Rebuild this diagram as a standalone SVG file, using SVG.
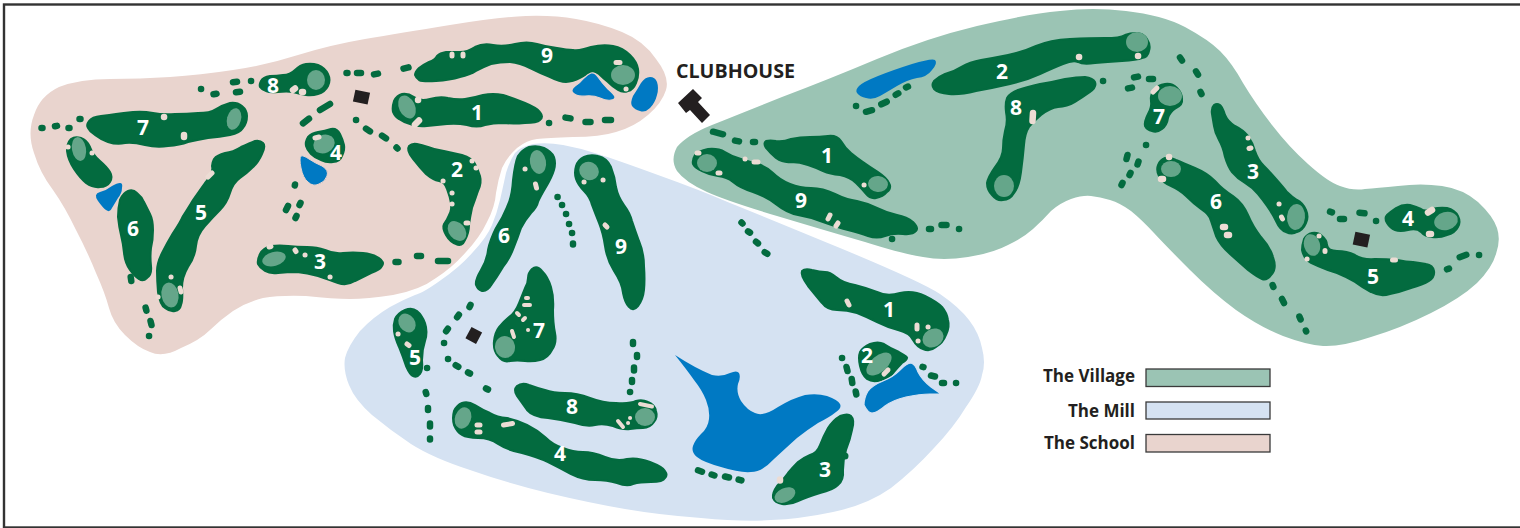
<svg xmlns="http://www.w3.org/2000/svg" width="1520" height="528" viewBox="0 0 1520 528">
<style>
.f{fill:#036b3f;stroke:#036b3f;stroke-width:2;stroke-linejoin:round}
.l{fill:#65a68a}
.s{fill:none;stroke:#ecdcd4;stroke-width:6.500;stroke-linecap:round}
.t{stroke-width:5}
.w{fill:#0079c3}
.b{fill:#231f20}
.c{fill:none;stroke:#036b3f;stroke-width:6.500;stroke-linecap:round}
.n{fill:#fff;font:700 21px "Open Sans","Liberation Sans",sans-serif;text-anchor:middle}
.k{fill:#231f20;font:700 17px "Open Sans","Liberation Sans",sans-serif;text-anchor:end}
.r{stroke:#3a3a3a;stroke-width:1.300}
</style>
<rect width="1520" height="528" fill="#fff"/>
<rect x="4" y="4.500" width="1530" height="523" fill="none" stroke="#333" stroke-width="2.400"/>
<g id="areas">
<path id="area-school" fill="#e9d4ce" d="M59,87 Q80,79 110,79 Q140,79 170,77 Q200,75 233,70 Q267,65 298,55 Q330,45 365,39 Q400,33 450,25 Q500,17 526,16 Q553,15 576,19 Q600,23 622,32 Q644,41 656,59 Q670,77 666,90 Q662,103 648,115 Q634,127 616,132 Q600,137 573,137 Q547,138 537,139 Q527,140 517,148 Q507,157 502,168 Q498,180 496,193 Q495,207 487,222 Q480,237 466,252 Q453,267 436,278 Q420,290 393,295 Q367,299 350,299 Q333,299 306,296 Q280,295 263,298 Q247,302 233,311 Q220,320 210,330 Q200,340 181,348 Q163,358 150,352 Q138,348 125,335 Q113,323 109,308 Q105,293 96,273 Q88,253 76,230 Q65,207 53,190 Q40,173 34,153 Q27,133 34,115 Q40,96 59,87Z"/>
<path id="area-mill" fill="#d5e2f2" d="M533,144 Q547,142 563,145 Q580,148 598,154 Q617,160 658,175 Q700,190 730,203 Q760,215 840,248 Q922,282 940,294 Q959,307 969,320 Q979,333 982,348 Q986,363 982,375 Q980,387 966,407 Q954,427 934,448 Q914,470 891,488 Q867,505 833,512 Q800,519 771,520 Q743,522 701,518 Q660,515 625,509 Q590,503 548,493 Q507,483 470,470 Q433,458 411,444 Q390,430 372,415 Q355,400 349,385 Q343,370 345,358 Q348,346 360,331 Q373,317 390,307 Q407,298 415,295 Q423,293 441,280 Q460,267 473,252 Q487,237 492,225 Q497,213 500,200 Q503,187 506,173 Q510,160 515,153 Q520,147 533,144Z"/>
<path id="area-village" fill="#9bc4b4" d="M677,171 Q670,160 677,147 Q687,135 712,125 Q737,115 782,97 Q827,80 877,59 Q927,38 977,26 Q1027,14 1060,11 Q1093,7 1126,11 Q1162,15 1185,27 Q1209,40 1220,51 Q1232,63 1243,83 Q1255,103 1272,125 Q1289,147 1308,164 Q1328,182 1340,186 Q1353,191 1365,189 Q1377,188 1398,186 Q1421,183 1442,186 Q1463,189 1478,202 Q1493,216 1497,228 Q1501,240 1496,254 Q1492,268 1477,283 Q1461,298 1431,313 Q1401,328 1371,337 Q1341,347 1323,346 Q1307,345 1283,336 Q1260,327 1236,310 Q1213,293 1190,270 Q1167,247 1154,233 Q1142,220 1131,211 Q1120,203 1110,200 Q1100,197 1091,196 Q1083,195 1071,199 Q1060,203 1051,211 Q1043,220 1033,229 Q1023,238 1008,245 Q993,253 968,257 Q943,261 923,257 Q903,254 865,242 Q827,231 777,216 Q727,201 707,192 Q685,182 677,171Z"/>
</g>
<g id="connectors">
<path class="c" d="M41.500,128h1M55,126.300l2,-.4M68.500,128h1M79.500,119h1"/>
<path class="c" d="M201,89h.1M213.500,94.300l3,-.6M236,92.300l4,-.6M233,82.300l4,-.6M251,81h.1"/>
<path class="c" d="M346.500,73h1M357,73h4M374,74.400l4,-.8M403.500,68.600l5,-1.200"/>
<path class="c" d="M320,110l10,-6M303,123.300l6,-4.600"/>
<path class="c" d="M356,120h.1M366,128.600l4,2.800M382,135.600l4,2.800M396.500,147.500l1,1"/>
<path class="c" d="M295,184.500l-.2,1M300.500,203l-1,2M288,206l-2,4M296.500,216l-1,2"/>
<path class="c" d="M395.500,262h3M417,256h4M438,261h10"/>
<path class="c" d="M130.700,277l.6,4M145.600,307.600l.8,3M150.500,321l1,4M149,336h.1"/>
<path class="c" d="M549,123h.1M565.500,117.600l5,.8M585.500,122h5M605,120h6"/>
<path class="c" d="M713,131.700l10,2.600M735,140.600l4,.8M753,142h2"/>
<path class="c" d="M856,106h.1M866,111.800l6,-1.600M881.300,104.300l5.400,-2.600M895.700,94.800l2.600,-1.500M906,87.400l2,-.8"/>
<path class="c" d="M1103,81h.1M1134,77.400l4,-.8M1149,79h4M1128,88.400l4,-.8"/>
<path class="c" d="M929,229h2M941.500,225h5M959,229h.1M892,239h.1"/>
<path class="c" d="M1146,145h.1M1127.500,155l-1,4M1138.500,161.500l-1,3M1130.500,173l-1,2M1122.500,183l-1,2"/>
<path class="c" d="M1180,57.500l2,3M1196,71.300l2,3.400M1200.500,92l1,2"/>
<path class="c" d="M1330,211.700l2,.6M1340,219h4M1359.500,212.700l5,.6M1376,221h.1"/>
<path class="c" d="M1447,269.300l2,-.7M1459.700,257.200l6.600,-2.400M1479,255h.1"/>
<path class="c" d="M1272.600,285l.8,2M1282,299l2,4M1299.400,316.600l1.200,2.800M1305.800,330.500l.4,1"/>
<path class="c" d="M741.500,222.500l1,1M748,231.400l2,1.200M756,241.800l2,1.600M764.700,252.200l2.600,1.600"/>
<path class="c" d="M557.500,197h.1M562,205h.1M566,214h.1M569,224h.1M572,233h.1M573,243.500v1"/>
<path class="c" d="M842,358h.1M846.500,367l1,4M851.700,379l.6,4M855.700,391.500l.6,3"/>
<path class="c" d="M922.500,366.900l1,.2M931,375.500l4,1M942,383h2M956,383h.1"/>
<path class="c" d="M698,470.300l4,1.400M711.600,474.500l2.800,1M725,476.500l4,1M738.600,479.600l2.800,.8"/>
<path class="c" d="M470.500,305l-1,2M458.900,314.800l-1.800,2.400M447.900,328.800l-1.800,2.400M444,343h.1M448,359h.1M455.700,365.200l2.600,1.600M468,372.500l2,1M486,388.500l2,1"/>
<path class="c" d="M427,368h.1M425.700,392l.6,2M428,408v2M430,423.500v3M430,438.500v1"/>
<path class="c" d="M633,342v2M637,355v2M634,367.500v3M632,380v2M630,392h.1"/>
</g>
<g id="clubhouse">
<path class="b" d="M678,103L693,89L702,98L698,102L710,115L702,123L690,110L686,113Z"/>
<text x="676" y="78" fill="#231f20" font-family="Open Sans, Liberation Sans, sans-serif" font-weight="700" font-size="19" textLength="119" lengthAdjust="spacingAndGlyphs">CLUBHOUSE</text>
</g>
<g id="school">
<rect class="b" x="354" y="91" width="15" height="12" transform="rotate(12 361 97)"/>
<g id="school-1"><path class="f" d="M393,112 Q392,107 394,101 Q397,95 402,94 Q408,93 414,97 Q420,102 430,99 Q440,96 448,98 Q457,100 465,99 Q473,98 483,95 Q493,93 503,95 Q513,98 525,103 Q537,108 540,112 Q544,117 540,120 Q537,123 525,123 Q513,124 503,123 Q493,123 485,125 Q477,128 467,125 Q457,123 447,124 Q437,125 427,126 Q417,127 410,124 Q403,122 399,119 Q395,117 393,112Z"/><ellipse class="l" cx="407" cy="107" rx="8" ry="12" transform="rotate(-25 407 107)"/><path class="s" d="M418,100h.1M415,124.500l4,-4"/><text class="n" x="477" y="120">1</text></g>
<g id="school-2"><path class="f" d="M413,159 Q406,150 409,146 Q412,143 417,144 Q422,145 428,147 Q435,150 444,151 Q453,153 462,155 Q472,158 475,164 Q478,170 480,176 Q482,183 478,191 Q475,200 472,208 Q470,217 469,225 Q469,233 465,240 Q462,247 456,244 Q450,242 446,235 Q442,228 444,224 Q447,220 449,215 Q452,210 451,203 Q450,197 447,189 Q445,182 439,181 Q433,180 426,174 Q420,168 413,159Z"/><ellipse class="l" cx="457" cy="231" rx="8" ry="11" transform="rotate(-40 457 231)"/><path class="s t" d="M472,161h.1M476,168h.1M443,181h.1M452,193h.1M452,204h.1M466,223h2"/><text class="n" x="457" y="177">2</text></g>
<g id="school-3"><path class="f" d="M258,264 Q257,260 260,254 Q263,248 271,246 Q280,245 288,246 Q297,247 307,247 Q317,247 325,250 Q333,254 343,253 Q353,252 363,253 Q373,254 379,258 Q385,262 382,266 Q380,270 371,273 Q363,277 355,281 Q347,286 338,283 Q330,280 318,276 Q307,273 297,272 Q287,272 278,273 Q270,274 265,271 Q260,268 258,264Z"/><ellipse class="l" cx="274" cy="259" rx="12" ry="7" transform="rotate(-15 274 259)"/><path class="s t" d="M269,247l2,-.5M295,250l1,1.500M305,255h.1M330,277h.1"/><text class="n" x="320" y="269">3</text></g>
<g id="school-4"><path class="f" d="M306,146 Q305,142 308,137 Q312,133 318,132 Q325,131 331,129 Q337,128 340,134 Q343,140 344,145 Q345,150 342,156 Q340,162 333,162 Q327,163 321,160 Q315,158 311,154 Q307,150 306,146Z"/><ellipse class="l" cx="324" cy="144" rx="11" ry="9" transform="rotate(-25 324 144)"/><path class="s t" d="M315,138l4,-1"/><path class="w" stroke="#e9d4ce" stroke-width="1" d="M301,168 Q299,158 301,156 Q303,155 309,159 Q315,163 322,166 Q329,170 327,176 Q325,182 319,184 Q313,187 308,182 Q303,178 301,168Z"/><text class="n" x="336" y="160">4</text></g>
<g id="school-5"><path class="f" d="M212,166 Q212,163 214,159 Q217,155 225,153 Q233,152 241,147 Q250,143 255,141 Q260,140 263,143 Q266,146 262,154 Q258,163 252,168 Q247,173 240,178 Q233,183 230,193 Q227,203 220,210 Q213,217 205,226 Q197,235 196,246 Q195,257 188,267 Q182,277 182,288 Q183,300 181,305 Q180,310 175,311 Q170,312 165,308 Q160,305 158,292 Q157,280 157,271 Q157,263 162,253 Q167,243 173,233 Q180,223 183,216 Q187,210 193,200 Q200,190 205,183 Q210,177 211,173 Q213,170 212,166Z"/><ellipse class="l" cx="170" cy="295" rx="8.500" ry="12.500" transform="rotate(-10 170 295)"/><path class="s t" d="M208,177l4,-4M171,277h.1M180,288l1,4M158,297h.1"/><text class="n" x="201" y="220">5</text></g>
<g id="school-6"><path class="f" d="M118,217 Q118,208 120,200 Q123,193 128,191 Q133,189 137,193 Q142,197 144,202 Q147,208 150,214 Q153,220 153,230 Q153,240 151,248 Q150,257 151,266 Q152,275 147,278 Q143,282 139,279 Q135,277 130,270 Q125,263 124,253 Q123,243 121,235 Q119,227 118,217Z"/><text class="n" x="133" y="236">6</text></g>
<g id="school-7"><path class="f" d="M88,128 Q86,125 89,121 Q92,117 101,116 Q110,115 116,114 Q123,113 133,112 Q143,111 153,113 Q163,115 175,114 Q187,114 198,113 Q210,113 216,109 Q223,105 230,103 Q237,102 242,106 Q247,110 247,116 Q247,123 243,128 Q240,133 230,135 Q220,137 208,138 Q197,140 188,142 Q180,145 168,146 Q157,148 145,145 Q133,142 125,143 Q117,145 108,142 Q100,139 95,135 Q90,132 88,128Z"/><ellipse class="l" cx="234" cy="119" rx="7" ry="11" transform="rotate(15 234 119)"/><path class="s" d="M164,117h.1M184,135v2"/><text class="n" x="143" y="135">7</text></g>
<g id="school-8"><path class="f" d="M260,87 Q259,85 261,81 Q263,77 270,76 Q277,76 283,75 Q290,75 295,70 Q300,65 306,64 Q312,63 318,65 Q325,68 328,74 Q331,80 328,86 Q325,92 318,94 Q312,96 306,95 Q300,94 293,92 Q287,91 278,92 Q270,93 266,91 Q262,90 260,87Z"/><ellipse class="l" cx="316" cy="80" rx="9" ry="10"/><path class="s" d="M293,90l2,-1.500M302,92h1"/><text class="n" x="273" y="93">8</text></g>
<g id="school-9"><path class="f" d="M415,75 Q415,72 419,68 Q423,65 429,62 Q435,60 437,56 Q440,53 446,52 Q453,52 460,52 Q467,52 475,47 Q483,43 493,45 Q503,47 515,44 Q527,41 537,44 Q547,47 557,48 Q567,50 573,50 Q580,51 591,47 Q603,44 613,46 Q623,48 630,55 Q637,62 638,69 Q639,77 636,83 Q633,90 628,91 Q623,93 618,90 Q613,87 608,82 Q603,78 599,74 Q595,71 591,72 Q587,74 580,78 Q573,82 566,82 Q560,82 550,77 Q540,73 530,68 Q520,63 510,62 Q500,62 491,64 Q483,67 476,71 Q470,75 460,77 Q450,80 436,81 Q423,82 419,80 Q416,78 415,75Z"/><ellipse class="l" cx="623" cy="75" rx="12" ry="10"/><path class="s t" d="M616,62.500h4M626,89h.1M452,54v2M463,54v2"/><path class="w" stroke="#e9d4ce" stroke-width="1.200" d="M573,93 Q570,90 575,86 Q580,83 584,78 Q588,74 591,73 Q595,72 598,77 Q602,83 608,89 Q615,95 615,97 Q615,100 611,100 Q607,101 600,98 Q593,95 585,96 Q577,97 573,93Z"/><path class="w" d="M632,106 Q630,103 633,96 Q637,90 641,83 Q645,77 650,77 Q655,77 657,82 Q659,88 657,95 Q655,103 650,108 Q645,113 640,111 Q635,110 632,106Z"/><text class="n" x="547" y="63">9</text></g>
<g id="school-hazard"><path class="f" d="M67,151 Q67,143 71,139 Q75,136 81,138 Q87,140 90,147 Q93,155 100,161 Q107,167 110,172 Q113,177 110,182 Q107,187 100,187 Q93,188 86,183 Q80,178 74,169 Q68,160 67,151Z"/><ellipse class="l" cx="79" cy="149" rx="7" ry="12" transform="rotate(-10 79 149)"/><path class="s t" d="M68,147h.1M92,153h.1"/><path class="w" d="M98,201 Q93,194 100,192 Q107,190 112,186 Q117,183 120,183 Q123,183 122,188 Q122,193 118,198 Q115,203 112,208 Q110,213 106,210 Q103,208 98,201Z"/></g>
</g>
<g id="village">
<rect class="b" x="1354" y="233" width="15" height="13" transform="rotate(12 1361 239)"/>
<path id="village-lake" class="w" d="M857,93 Q855,90 859,86 Q863,82 878,76 Q893,70 912,64 Q932,58 935,60 Q938,63 932,70 Q927,77 917,78 Q907,80 897,86 Q887,92 880,96 Q873,100 866,98 Q860,97 857,93Z"/>
<g id="village-1"><path class="f" d="M766,148 Q763,143 766,141 Q770,140 776,141 Q783,142 791,139 Q800,137 810,137 Q820,137 828,136 Q837,135 841,141 Q845,148 851,153 Q857,158 863,162 Q870,167 878,172 Q887,178 889,183 Q892,188 887,192 Q883,197 876,198 Q870,199 866,194 Q863,190 856,183 Q850,177 840,175 Q830,174 823,171 Q817,168 808,165 Q800,162 791,162 Q783,163 776,158 Q770,153 766,148Z"/><ellipse class="l" cx="878" cy="184" rx="10" ry="8" transform="rotate(5 878 184)"/><path class="s t" d="M864,185h.1"/><text class="n" x="827" y="163">1</text></g>
<g id="village-2"><path class="f" d="M934,89 Q931,85 934,81 Q938,77 945,74 Q953,72 961,67 Q970,62 981,60 Q993,58 1008,55 Q1023,52 1036,46 Q1050,40 1070,39 Q1090,38 1105,38 Q1120,38 1125,35 Q1130,33 1136,33 Q1143,33 1147,39 Q1151,45 1149,51 Q1148,57 1142,58 Q1137,60 1122,61 Q1107,62 1095,63 Q1083,65 1078,62 Q1073,60 1063,64 Q1053,68 1040,74 Q1027,80 1010,84 Q993,88 976,91 Q960,95 949,94 Q938,93 934,89Z"/><ellipse class="l" cx="1137" cy="42" rx="11" ry="10"/><path class="s" d="M1079,57h.1M1138,56h.1"/><text class="n" x="1002" y="79">2</text></g>
<g id="village-3"><path class="f" d="M1212,114 Q1211,108 1214,105 Q1217,103 1220,105 Q1223,108 1225,115 Q1228,122 1235,126 Q1243,130 1248,136 Q1253,143 1255,151 Q1258,160 1264,166 Q1270,172 1276,179 Q1283,187 1287,192 Q1292,197 1297,200 Q1303,203 1306,210 Q1309,217 1306,223 Q1303,230 1297,232 Q1292,235 1286,232 Q1280,230 1276,221 Q1272,213 1267,206 Q1263,200 1258,194 Q1253,188 1245,183 Q1237,178 1232,172 Q1228,167 1225,157 Q1223,147 1219,140 Q1215,133 1214,126 Q1213,120 1212,114Z"/><ellipse class="l" cx="1296" cy="217" rx="9" ry="13" transform="rotate(5 1296 217)"/><path class="s t" d="M1248,138h.1M1249,148.500l2,-.5M1279,204h.1M1281.500,217l1,2"/><text class="n" x="1253" y="179">3</text></g>
<g id="village-4"><path class="f" d="M1387,223 Q1384,218 1387,215 Q1390,212 1396,208 Q1403,204 1410,205 Q1417,207 1421,209 Q1425,212 1432,209 Q1440,207 1447,208 Q1455,210 1458,216 Q1461,222 1458,227 Q1455,233 1447,235 Q1440,238 1432,237 Q1425,237 1421,232 Q1417,228 1408,230 Q1400,232 1395,230 Q1390,228 1387,223Z"/><ellipse class="l" cx="1446" cy="221" rx="12" ry="9" transform="rotate(-15 1446 221)"/><path class="s" d="M1428,212.500l4,-2.500M1429,234h2"/><text class="n" x="1408" y="226">4</text></g>
<g id="village-5"><path class="f" d="M1302,250 Q1302,245 1304,239 Q1307,234 1312,233 Q1318,232 1322,236 Q1327,240 1327,245 Q1328,251 1337,251 Q1347,251 1355,255 Q1363,260 1375,259 Q1387,259 1397,260 Q1407,262 1413,262 Q1420,263 1426,264 Q1433,265 1434,271 Q1435,277 1429,281 Q1423,285 1411,288 Q1400,292 1390,294 Q1380,297 1371,292 Q1363,288 1355,282 Q1347,277 1337,273 Q1327,270 1318,266 Q1310,263 1306,259 Q1303,255 1302,250Z"/><ellipse class="l" cx="1312" cy="245" rx="8" ry="11" transform="rotate(-15 1312 245)"/><path class="s t" d="M1319,236h.1M1325,250.500v1M1307,259h.1M1392.500,260h3"/><text class="n" x="1373" y="284">5</text></g>
<g id="village-6"><path class="f" d="M1159,176 Q1156,170 1158,165 Q1160,160 1165,158 Q1170,157 1176,160 Q1183,163 1195,168 Q1207,173 1215,181 Q1223,190 1233,196 Q1243,203 1248,215 Q1253,227 1261,237 Q1270,247 1273,257 Q1277,268 1272,274 Q1267,281 1262,279 Q1257,277 1248,270 Q1240,263 1230,254 Q1220,245 1216,236 Q1213,227 1211,221 Q1210,215 1201,209 Q1193,203 1186,196 Q1180,190 1171,186 Q1163,183 1159,176Z"/><ellipse class="l" cx="1171" cy="169" rx="10" ry="8"/><path class="s" d="M1169,157h.1M1161,179h2M1223,227h2M1227,235h2"/><text class="n" x="1216" y="209">6</text></g>
<g id="village-7"><path class="f" d="M1151,101 Q1150,95 1154,90 Q1158,85 1165,84 Q1172,83 1177,88 Q1182,93 1182,99 Q1183,105 1176,108 Q1170,112 1168,118 Q1167,125 1162,129 Q1157,133 1152,131 Q1147,130 1145,126 Q1144,122 1148,114 Q1152,107 1151,101Z"/><ellipse class="l" cx="1170" cy="96" rx="12" ry="10"/><path class="s t" d="M1153,92l4,-4"/><text class="n" x="1159" y="124">7</text></g>
<g id="village-8"><path class="f" d="M1006,112 Q1005,103 1007,98 Q1010,93 1018,90 Q1027,87 1040,84 Q1053,82 1065,79 Q1077,77 1085,77 Q1093,78 1095,82 Q1097,87 1090,92 Q1083,97 1075,102 Q1067,107 1058,107 Q1050,108 1041,115 Q1033,122 1029,127 Q1025,133 1024,145 Q1023,157 1021,172 Q1019,187 1014,193 Q1010,200 1003,200 Q997,201 992,195 Q987,190 987,183 Q988,177 995,167 Q1003,157 1003,148 Q1003,140 1005,131 Q1008,122 1006,112Z"/><ellipse class="l" cx="1004" cy="186" rx="10" ry="11"/><path class="s" d="M1033,113l-.5,8"/><text class="n" x="1016" y="115">8</text></g>
<g id="village-9"><path class="f" d="M693,164 Q692,160 695,155 Q698,151 708,149 Q718,148 725,152 Q733,157 741,159 Q750,162 758,164 Q767,167 773,173 Q780,180 790,184 Q800,188 811,188 Q823,188 835,194 Q847,200 857,201 Q867,203 877,208 Q887,213 897,215 Q907,217 913,222 Q919,228 916,231 Q913,235 903,234 Q893,233 885,236 Q877,239 868,236 Q860,233 848,230 Q837,227 823,222 Q810,217 798,215 Q787,213 777,205 Q767,197 753,192 Q740,188 733,182 Q727,177 718,176 Q710,175 702,171 Q695,168 693,164Z"/><ellipse class="l" cx="707" cy="163" rx="10" ry="9"/><path class="s t" d="M697,153h2M718,173h2M745,159h.1M754,162h4M830,215l-2,4M838,223l-2,3"/><text class="n" x="801" y="208">9</text></g>
</g>
<g id="mill">
<rect class="b" x="468" y="329" width="12" height="13" transform="rotate(28 474 335)"/>
<path id="mill-lake" class="w" d="M675,355 Q695,368 712,375 Q722,377 730,373 Q737,370 739,373 Q741,377 738,384 Q736,392 741,401 Q747,410 755,413 Q763,417 778,407 Q793,398 805,395 Q817,393 827,396 Q838,400 840,404 Q842,408 836,412 Q830,417 818,423 Q807,430 797,438 Q787,447 774,459 Q762,472 751,472 Q740,473 721,467 Q703,462 697,457 Q691,452 693,446 Q695,440 701,434 Q708,428 709,419 Q710,410 706,400 Q702,390 694,380 Q687,370 675,355Z"/>
<g id="mill-1"><path class="f" d="M808,286 Q800,275 802,271 Q805,268 812,270 Q820,272 825,272 Q830,272 836,277 Q843,283 855,285 Q867,288 877,292 Q887,297 900,293 Q913,290 925,296 Q937,302 942,307 Q947,313 948,320 Q950,327 946,335 Q943,343 936,347 Q930,352 923,349 Q917,347 913,340 Q910,333 898,330 Q887,327 877,322 Q867,317 857,313 Q847,310 837,310 Q827,310 822,303 Q817,297 808,286Z"/><ellipse class="l" cx="933" cy="338" rx="11" ry="9" transform="rotate(-30 933 338)"/><path class="s t" d="M847,301l2,4M917,325v4M928,327h.1M918,341h.1"/><text class="n" x="889" y="317">1</text></g>
<g id="mill-2"><path class="f" d="M860,366 Q858,357 860,352 Q863,347 870,344 Q878,341 884,344 Q890,348 899,352 Q908,357 907,358 Q907,360 902,363 Q898,367 894,372 Q890,378 881,380 Q873,383 867,379 Q862,375 860,366Z"/><ellipse class="l" cx="879" cy="364" rx="15" ry="8" transform="rotate(-40 879 364)"/><path class="s t" d="M884,374l4,-4"/><path class="w" stroke="#d5e2f2" stroke-width="1.200" d="M864,405 Q864,398 868,391 Q873,385 883,381 Q893,377 900,370 Q907,363 911,363 Q915,364 918,372 Q922,380 931,387 L941,394 L930,394 Q920,394 906,397 Q893,400 885,406 Q877,413 872,413 Q868,413 864,405Z"/><text class="n" x="867" y="363">2</text></g>
<g id="mill-3"><path class="f" d="M828,428 Q833,420 840,416 Q848,413 851,416 Q855,420 852,430 Q850,440 846,450 Q843,460 843,470 Q844,480 838,485 Q833,490 820,493 Q807,497 798,501 Q790,505 782,504 Q775,503 773,498 Q772,493 777,486 Q783,480 788,473 Q793,467 798,462 Q803,458 810,455 Q817,453 820,445 Q823,437 828,428Z"/><circle class="f" cx="845" cy="456" r="2.500"/><ellipse class="l" cx="785" cy="495" rx="11" ry="7" transform="rotate(-25 785 495)"/><path class="s" d="M780,479.500v1"/><text class="n" x="825" y="477">3</text></g>
<g id="mill-4"><path class="f" d="M454,425 Q452,418 454,411 Q457,405 462,403 Q468,401 475,405 Q483,410 490,413 Q497,417 507,418 Q517,420 527,425 Q537,430 545,437 Q553,445 563,448 Q573,452 583,452 Q593,452 605,457 Q617,462 627,459 Q637,457 650,462 Q663,467 665,471 Q668,475 665,478 Q663,482 651,482 Q640,482 633,484 Q627,487 617,483 Q607,480 595,480 Q583,480 571,474 Q560,468 548,462 Q537,457 522,453 Q507,450 498,444 Q490,438 478,438 Q467,438 462,435 Q457,432 454,425Z"/><ellipse class="l" cx="463" cy="418" rx="8" ry="11" transform="rotate(20 463 418)"/><path class="s t" d="M477,425h3M477,432h3M503.500,425l9,-1.500"/><text class="n" x="560" y="461">4</text></g>
<g id="mill-5"><path class="f" d="M394,331 Q393,325 395,319 Q398,313 405,310 Q412,307 417,311 Q422,315 425,323 Q428,332 425,341 Q422,350 422,360 Q423,370 420,374 Q417,378 413,376 Q410,375 406,366 Q403,357 399,347 Q395,338 394,331Z"/><ellipse class="l" cx="407" cy="323" rx="8" ry="10" transform="rotate(-35 407 323)"/><path class="s t" d="M398,334h.1M407,344l2,1.500"/><text class="n" x="415" y="365">5</text></g>
<g id="mill-6"><path class="f" d="M513,180 Q515,163 518,156 Q522,150 529,147 Q537,145 544,148 Q552,152 554,157 Q556,163 554,170 Q552,177 546,187 Q540,197 538,202 Q537,207 531,213 Q525,220 521,228 Q518,237 514,247 Q510,258 503,267 Q497,277 492,284 Q487,292 482,291 Q478,290 476,285 Q475,280 481,270 Q487,260 488,250 Q490,240 496,228 Q503,217 507,207 Q512,197 513,180Z"/><ellipse class="l" cx="538" cy="162" rx="8" ry="12" transform="rotate(-10 538 162)"/><path class="s t" d="M525,169h.1M535.500,184l1,4"/><text class="n" x="504" y="243">6</text></g>
<g id="mill-7"><path class="f" d="M528,278 Q528,273 532,269 Q537,265 542,271 Q548,277 551,287 Q554,297 553,310 Q553,323 555,333 Q557,343 552,350 Q548,358 540,360 Q533,362 525,361 Q517,360 510,361 Q503,363 498,356 Q493,350 494,341 Q495,332 499,327 Q503,322 509,317 Q515,313 519,303 Q523,293 525,288 Q528,283 528,278Z"/><ellipse class="l" cx="505" cy="347" rx="10" ry="11" transform="rotate(-10 505 347)"/><path class="s" style="stroke-width:4" d="M526,298h2M524,305h6M517,313l2,2M523,320l2,-2M512,331l2,6M528,330h.1"/><text class="n" x="539" y="338">7</text></g>
<g id="mill-8"><path class="f" d="M517,396 Q513,390 517,386 Q522,382 529,385 Q537,388 545,390 Q553,393 565,393 Q577,393 590,398 Q603,403 616,403 Q630,404 636,401 Q642,399 648,402 Q655,405 656,411 Q658,417 654,422 Q650,428 643,428 Q637,428 630,429 Q623,430 613,426 Q603,423 595,425 Q587,427 575,423 Q563,420 548,418 Q533,417 527,410 Q522,403 517,396Z"/><ellipse class="l" cx="645" cy="417" rx="10" ry="9"/><path class="s" style="stroke-width:4" d="M640,404l12,2.500M618,421l5,6M630,418h.1M628,423h.1"/><text class="n" x="572" y="414">8</text></g>
<g id="mill-9"><path class="f" d="M576,179 Q574,173 576,166 Q578,160 584,157 Q590,154 598,156 Q607,158 611,167 Q615,177 616,187 Q618,197 624,205 Q630,213 632,221 Q635,230 639,241 Q644,253 644,266 Q645,280 644,290 Q643,300 638,306 Q633,312 629,307 Q625,303 623,293 Q622,283 614,271 Q607,260 605,246 Q603,233 599,223 Q595,213 592,205 Q590,197 584,191 Q578,185 576,179Z"/><ellipse class="l" cx="589" cy="171" rx="10" ry="9" transform="rotate(25 589 171)"/><path class="s t" d="M584,182h.1M603,180h.1M605,225l2,2"/><text class="n" x="621" y="254">9</text></g>
</g>
<g id="legend">
<text class="k" x="1135" y="382">The Village</text>
<rect class="r" x="1146" y="369" width="124" height="17.500" fill="#9bc4b4"/>
<text class="k" x="1135" y="417">The Mill</text>
<rect class="r" x="1146" y="402" width="124" height="17" fill="#d5e2f2"/>
<text class="k" x="1135" y="449">The School</text>
<rect class="r" x="1146" y="434.500" width="124" height="17.500" fill="#e9d4ce"/>
</g>
</svg>
